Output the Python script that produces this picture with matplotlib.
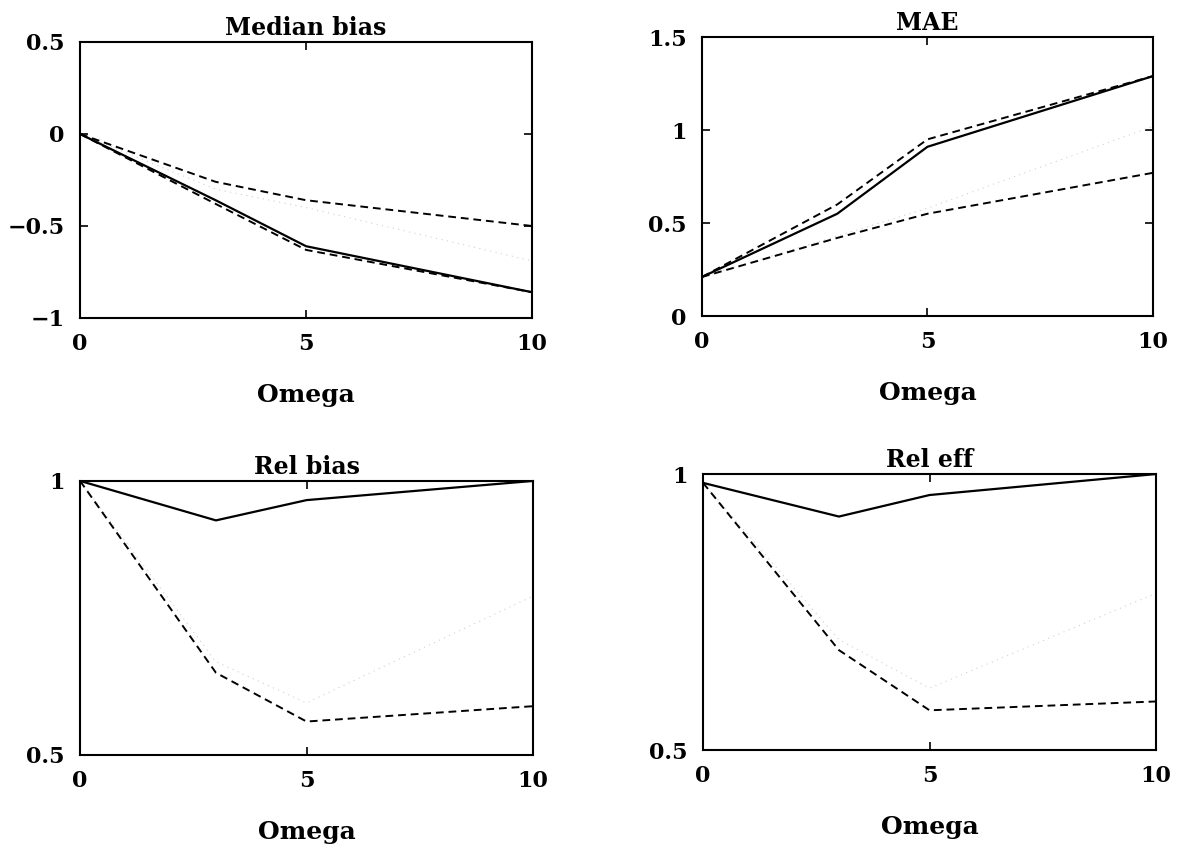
import numpy as np
import matplotlib
matplotlib.use("Agg")
import matplotlib.pyplot as plt

omega = [0, 3, 5, 10]

# Median bias
mb_solid = [0.0, -0.36, -0.61, -0.86]
mb_dash_lo = [0.0, -0.38, -0.63, -0.86]
mb_dash_hi = [0.0, -0.26, -0.36, -0.50]
mb_dot = [0.0, -0.30, -0.40, -0.69]

# MAE
mae_solid = [0.21, 0.55, 0.91, 1.29]
mae_dash_hi = [0.21, 0.60, 0.95, 1.29]
mae_dash_lo = [0.21, 0.42, 0.55, 0.77]
mae_dot = [0.21, 0.43, 0.58, 1.02]

# Rel bias
rb_solid = [1.0, 0.928, 0.965, 1.0]
rb_dash = [1.0, 0.65, 0.561, 0.589]
rb_dot = [1.0, 0.67, 0.595, 0.79]

# Rel eff
re_solid = [0.984, 0.923, 0.962, 1.0]
re_dash = [0.984, 0.681, 0.572, 0.588]
re_dot = [0.984, 0.70, 0.612, 0.784]

plt.rcParams['font.family'] = ['DejaVu Serif']
plt.rcParams['font.weight'] = 'bold'

fig = plt.figure(figsize=(11.79, 8.5), dpi=100)

positions = [
    [0.0679, 0.6259, 0.3834, 0.3247],
    [0.5954, 0.6282, 0.3825, 0.3282],
    [0.0679, 0.1118, 0.3842, 0.3224],
    [0.5963, 0.1176, 0.3842, 0.3247],
]

panels = [
    ("Median bias", [(mb_dot, ':'), (mb_dash_hi, '--'), (mb_dash_lo, '--'), (mb_solid, '-')],
     (-1, 0.5), [-1, -0.5, 0, 0.5], ["\u22121", "\u22120.5", "0", "0.5"]),
    ("MAE", [(mae_dot, ':'), (mae_dash_lo, '--'), (mae_dash_hi, '--'), (mae_solid, '-')],
     (0, 1.5), [0, 0.5, 1, 1.5], ["0", "0.5", "1", "1.5"]),
    ("Rel bias", [(rb_dot, ':'), (rb_dash, '--'), (rb_solid, '-')],
     (0.5, 1.0), [0.5, 1.0], ["0.5", "1"]),
    ("Rel eff", [(re_dot, ':'), (re_dash, '--'), (re_solid, '-')],
     (0.5, 1.0), [0.5, 1.0], ["0.5", "1"]),
]

for pos, (title, lines, ylim, yt, ytl) in zip(positions, panels):
    ax = fig.add_axes(pos)
    for vals, ls in lines:
        if ls == '-':
            ax.plot(omega, vals, color='black', lw=1.6, ls='-')
        elif ls == '--':
            ax.plot(omega, vals, color='black', lw=1.4, ls=(0, (4, 2.5)))
        else:
            ax.plot(omega, vals, color='#d0d0d0', lw=0.8, ls=(0, (1, 4)))
    ax.set_xlim(0, 10)
    ax.set_ylim(*ylim)
    ax.set_xticks([0, 5, 10])
    ax.set_xticklabels(["0", "5", "10"])
    ax.set_yticks(yt)
    ax.set_yticklabels(ytl)
    ax.tick_params(direction='in', length=6, width=1.2, top=True, right=True,
                   labelsize=16, pad=11)
    for sp in ax.spines.values():
        sp.set_linewidth(1.5)
    ax.set_title(title, fontsize=17, fontweight='bold', pad=5)
    ax.set_xlabel("Omega", fontsize=18, fontweight='bold', labelpad=20)

fig.savefig("out.png", dpi=100)
